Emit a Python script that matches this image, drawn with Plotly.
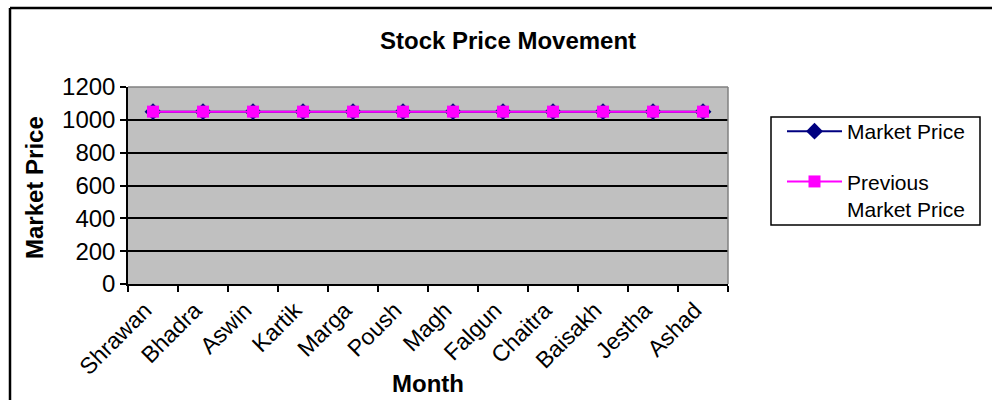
import plotly.graph_objects as go

# Nepali months of the fiscal year
months = ["Shrawan", "Bhadra", "Aswin", "Kartik", "Marga", "Poush",
          "Magh", "Falgun", "Chaitra", "Baisakh", "Jestha", "Ashad"]
market_price = [1050, 1050, 1050, 1050, 1050, 1050,
                1050, 1050, 1050, 1050, 1050, 1050]
previous_market_price = [1050, 1050, 1050, 1050, 1050, 1050,
                         1050, 1050, 1050, 1050, 1050, 1050]
y_ticks = [0, 200, 400, 600, 800, 1000, 1200]

W, H = 992, 400
L, R, T, B = 128, 728, 87, 284  # plot area edges in pixels


def px_x(px):
    return (px - L) / (R - L)


def px_y(py):
    return (B - py) / (B - T)


FONT = "Liberation Sans, Arial, sans-serif"

fig = go.Figure()
fig.add_trace(go.Scatter(
    x=months, y=market_price, name="Market Price", mode="lines+markers",
    legendgroup="a",
    line=dict(color="#000080", width=2),
    marker=dict(symbol="diamond", size=13, color="#000080"),
))
fig.add_trace(go.Scatter(
    x=months, y=previous_market_price, name="Previous<br>Market Price",
    mode="lines+markers", legendgroup="b",
    line=dict(color="#FF00FF", width=2),
    marker=dict(symbol="square", size=12, color="#FF00FF"),
))

fig.update_layout(
    width=W, height=H,
    margin=dict(l=L, r=W - R, t=T, b=H - B, autoexpand=False),
    paper_bgcolor="white",
    plot_bgcolor="#C0C0C0",
    font=dict(family=FONT, size=22, color="black"),
    showlegend=True,
    legend=dict(
        x=px_x(782), y=px_y(111), xanchor="left", yanchor="top",
        bgcolor="rgba(0,0,0,0)", borderwidth=0,
        font=dict(family=FONT, size=21, color="black"),
        tracegroupgap=20, valign="top", itemwidth=55,
    ),
    xaxis=dict(
        type="category", range=[-0.5, len(months) - 0.5],
        tickangle=-45, tickson="boundaries", automargin=False,
        ticks="outside", ticklen=6, tickwidth=1.5, tickcolor="black",
        ticklabelstandoff=2, ticklabelshift=-8,
        showline=True, linecolor="black", linewidth=1.5, mirror=False,
        showgrid=False, zeroline=False,
        tickfont=dict(family=FONT, size=23, color="black"),
    ),
    yaxis=dict(
        range=[0, 1200], tickvals=y_ticks, automargin=False,
        ticks="outside", ticklen=6, tickwidth=1.5, tickcolor="black",
        showline=True, linecolor="black", linewidth=1.5,
        showgrid=True, gridcolor="black", gridwidth=1.5, zeroline=False,
        tickfont=dict(family=FONT, size=24, color="black"),
    ),
    annotations=[
        dict(text="<b>Stock Price Movement</b>", xref="paper", yref="paper",
             x=px_x(508), y=px_y(41), xanchor="center", yanchor="middle",
             showarrow=False, font=dict(family=FONT, size=24, color="black")),
        dict(text="<b>Market Price</b>", xref="paper", yref="paper",
             x=px_x(34), y=px_y(188), xanchor="center", yanchor="middle",
             textangle=-90, showarrow=False,
             font=dict(family=FONT, size=24, color="black")),
        dict(text="<b>Month</b>", xref="paper", yref="paper",
             x=px_x(428), y=px_y(383), xanchor="center", yanchor="middle",
             showarrow=False, font=dict(family=FONT, size=24, color="black")),
    ],
    shapes=[
        # grey frame on top and right of plot area
        dict(type="line", xref="paper", yref="paper", x0=0, x1=1, y0=1, y1=1,
             line=dict(color="#808080", width=1.5)),
        dict(type="line", xref="paper", yref="paper", x0=1, x1=1, y0=0, y1=1,
             line=dict(color="#808080", width=1.5)),
        # legend box
        dict(type="rect", xref="paper", yref="paper",
             x0=px_x(771), x1=px_x(980), y0=px_y(225), y1=px_y(117),
             fillcolor="white", line=dict(color="black", width=1.5)),
        # outer chart frame
        dict(type="line", xref="paper", yref="paper",
             x0=px_x(10), x1=px_x(W + 5), y0=px_y(8), y1=px_y(8),
             line=dict(color="black", width=2.5)),
        dict(type="line", xref="paper", yref="paper",
             x0=px_x(10), x1=px_x(10), y0=px_y(8), y1=px_y(H + 5),
             line=dict(color="black", width=2.5)),
    ],
)

fig.write_html("out.html")
